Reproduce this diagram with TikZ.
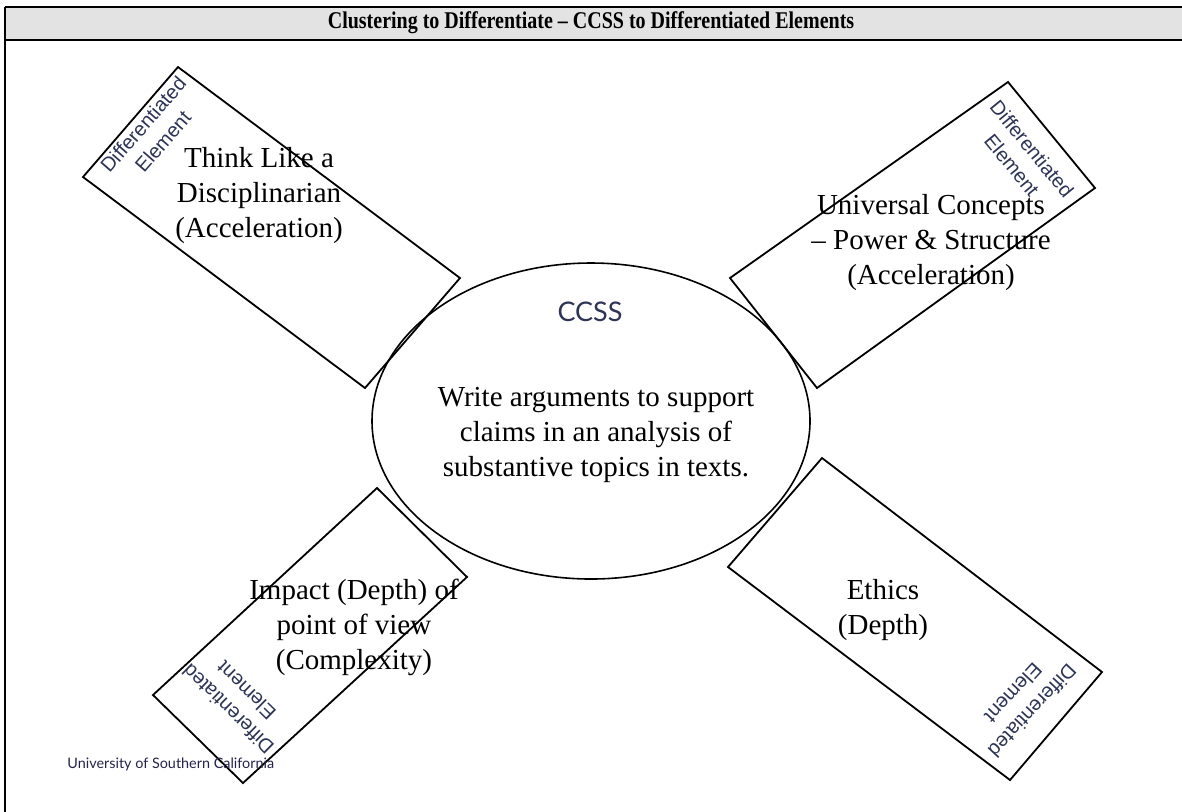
\documentclass[tikz,border=0pt]{standalone}
\usepackage{fontspec}
\setmainfont{Liberation Serif}
\newfontfamily\elemfont{Liberation Sans}
\newfontfamily\gillfont{Lato}
\usepackage{xcolor}

\definecolor{headgray}{RGB}{227,227,227}
\definecolor{elemblue}{RGB}{45,52,85}
\definecolor{uscnavy}{RGB}{35,35,75}

\begin{document}
\begin{tikzpicture}[x=0.5pt,y=-0.5pt]
	\tikzstyle{every node}+=[inner sep=0pt, align=center]
	\tikzstyle{idea}=[font=\fontsize{14.5}{17.5}\selectfont]
	\tikzstyle{elemlabel}=[font=\elemfont\fontsize{10}{13}\selectfont, text=elemblue]
	\tikzstyle{card}=[black, line width=0.9pt, line join=miter]
	\useasboundingbox (0,0) rectangle (1182,811);
	\clip (0,0) rectangle (1182,811);
	% table frame and header
	\fill [headgray] (5,7) rectangle (1190,40);
	\draw [black, line width=1.15pt] (5,7) -- (1190,7);
	\draw [black, line width=1.15pt] (5,40) -- (1190,40);
	\draw [black, line width=1.15pt] (5,7) -- (5,820);
	\node [font=\bfseries\fontsize{10}{12}\selectfont] (title) at (591,23) {\scalebox{1}[1.2]{Clustering to Differentiate – CCSS to Differentiated Elements}};
	% centre
	\draw [black, line width=0.8pt] (591,421) ellipse (109.5pt and 79pt);
	\node [font=\gillfont\fontsize{13.5}{15}\selectfont, text=elemblue] (ccss) at (590,312) {CCSS};
	\node [idea] (standard) at (596,435) {Write arguments to support\\claims in an analysis of\\substantive topics in texts.};
	% cards
	\draw [card] (178,67) -- (460,278) -- (365,388) -- (83,177) -- cycle;
	\draw [card] (1008,82) -- (1095,188) -- (817,388) -- (730,278) -- cycle;
	\draw [card] (377,488) -- (467,577) -- (243,783) -- (153,695) -- cycle;
	\draw [card] (822,458) -- (1102,672) -- (1010,780) -- (728,567) -- cycle;
	\node [elemlabel, rotate=49] (elemA) at (153,133) {Differentiated\\Element};
	\node [elemlabel, rotate=-50.6] (elemB) at (1022,157) {Differentiated\\Element};
	\node [elemlabel, rotate=135.6] (elemC) at (237,700) {Differentiated\\Element};
	\node [elemlabel, rotate=-133] (elemD) at (1023,702) {Differentiated\\Element};
	\node [idea] (think) at (259,196) {Think Like a\\Disciplinarian\\(Acceleration)};
	\node [idea] (universal) at (931,243) {Universal Concepts\\– Power \& Structure\\(Acceleration)};
	\node [idea] (impact) at (354,627) {Impact (Depth) of\\point of view\\(Complexity)};
	\node [idea] (ethics) at (883,610) {Ethics\\(Depth)};
	% footer
	\node [font=\gillfont\fontsize{7.2}{8}\selectfont, text=uscnavy, anchor=west] (usc) at (67,764) {University of Southern California};
\end{tikzpicture}
\end{document}
